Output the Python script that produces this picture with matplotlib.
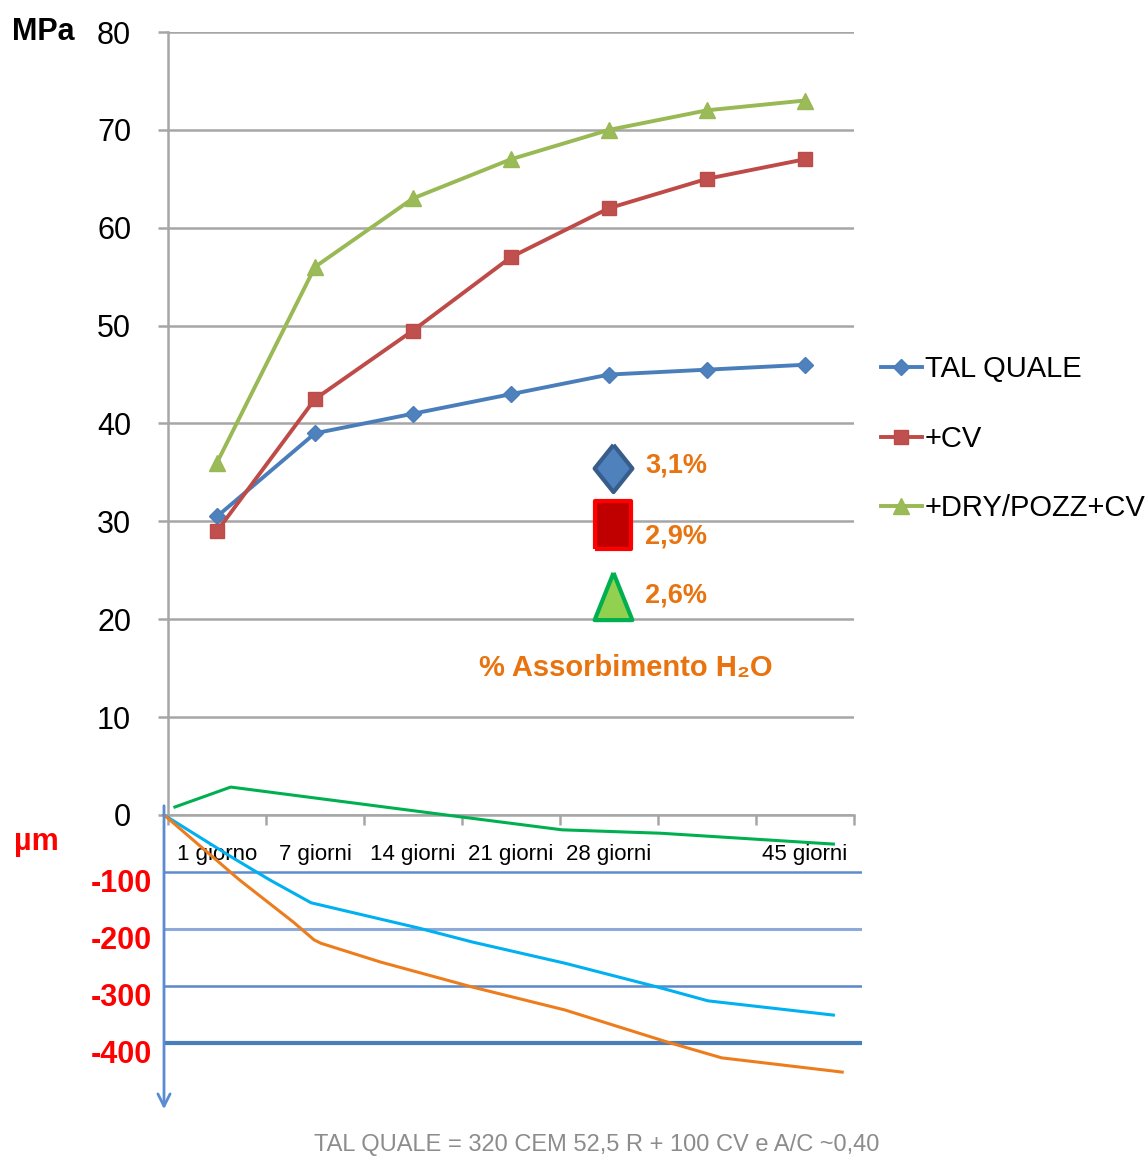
import matplotlib
matplotlib.use("Agg")
import matplotlib.pyplot as plt
from matplotlib.path import Path
from matplotlib.transforms import ScaledTranslation

plt.rcParams['font.family'] = ['Liberation Sans', 'DejaVu Sans']

# ---- data ----
categories = ['1 giorno', '7 giorni', '14 giorni', '21 giorni', '28 giorni', '35 giorni', '45 giorni']
shown_labels = ['1 giorno', '7 giorni', '14 giorni', '21 giorni', '28 giorni', '', '45 giorni']

tal_quale = [30.5, 39.0, 41.0, 43.0, 45.0, 45.5, 46.0]
plus_cv = [29.0, 42.5, 49.5, 57.0, 62.0, 65.0, 67.0]
dry_pozz_cv = [36.0, 56.0, 63.0, 67.0, 70.0, 72.0, 73.0]
series_names = ['TAL QUALE', '+CV', '+DRY/POZZ+CV']

absorption = [3.1, 2.9, 2.6]

# shrinkage curves (µm), x in category units
green_x = [-0.43, 0.14, 2.52, 3.52, 4.53, 6.29]
green_y = [14, 49, -4, -26, -32, -51]
cyan_x = [-0.54, 0.16, 0.54, 0.96, 2.05, 2.61, 3.55, 4.50, 5.01, 6.29]
cyan_y = [0, -75, -114, -154, -198, -223, -260, -302, -326, -351]
orange_x = [-0.54, 0.23, 0.49, 0.78, 0.99, 1.06, 1.67, 2.61, 3.55, 4.59, 5.15, 6.38]
orange_y = [0, -114, -149, -188, -219, -225, -258, -302, -342, -398, -426, -451]
shrink_ticks = [-100, -200, -300, -400]

W, H = 1145, 1161
fig = plt.figure(figsize=(W / 100, H / 100), dpi=100)

# ---- upper chart ----
ax = fig.add_axes([168 / W, 1 - 815 / H, (854 - 168) / W, (815 - 32) / H])
x = list(range(len(categories)))
grey = '#a6a6a6'
ax.set_xlim(-0.5, len(categories) - 0.5)
ax.set_ylim(0, 80)
ax.set_yticks(range(0, 81, 10))
ax.set_yticklabels([str(v) for v in range(0, 81, 10)], fontsize=22)
ax.grid(axis='y', color=grey, lw=1.8)
ax.set_axisbelow(True)
for s in ['top', 'right']:
    ax.spines[s].set_visible(False)
for s in ['left', 'bottom']:
    ax.spines[s].set_color(grey)
    ax.spines[s].set_linewidth(1.8)
ax.tick_params(axis='y', length=7.5, width=1.8, color=grey, pad=19)
ax.set_xticks([i - 0.5 for i in range(len(categories) + 1)])
ax.set_xticklabels([])
ax.tick_params(axis='x', which='major', length=7, width=1.8, color=grey, direction='out')
ax.set_xticks(x, minor=True)
ax.set_xticklabels(shown_labels, minor=True, fontsize=16)
ax.tick_params(axis='x', which='minor', length=0, pad=21)
ax.patch.set_visible(False)

h1, = ax.plot(x, tal_quale, color='#4a7ebb', lw=2.8, marker='D', ms=8.5,
              mfc='#4f81bd', mec='#4a7ebb', label=series_names[0])
h2, = ax.plot(x, plus_cv, color='#be4b48', lw=2.8, marker='s', ms=10,
              mfc='#c0504d', mec='#be4b48', label=series_names[1])
h3, = ax.plot(x, dry_pozz_cv, color='#98b954', lw=2.8, marker='^', ms=11,
              mfc='#9bbb59', mec='#98b954', label=series_names[2])

fig.legend(handles=[h1, h2, h3], loc='upper left',
           bbox_to_anchor=(881 / W, 1 - 355 / H), frameon=False, fontsize=21,
           handlelength=1.4, handletextpad=0.1, labelspacing=1.43,
           borderpad=0, borderaxespad=0)

fig.text(12 / W, 1 - 32 / H, 'MPa', fontsize=22, fontweight='bold', va='center', ha='left')

# absorption markers
orange = '#e8730f'
diamond = Path([(0, 1), (0.8, 0), (0, -1), (-0.8, 0), (0, 1)])
rect = Path([(-0.78, -1), (0.78, -1), (0.78, 1), (-0.78, 1), (-0.78, -1)])
tri = Path([(0, 1), (0.8, -1), (-0.8, -1), (0, 1)])
mk_x = 4.04
mk_y = [35.5, 29.6, 22.4]
txt_y = [35.7, 28.5, 22.4]
styles = [(diamond, '#4f81bd', '#385d8a'), (rect, '#c00000', '#ff0000'), (tri, '#92d050', '#00b050')]
for (pth, fc, ec), my, ty, val in zip(styles, mk_y, txt_y, absorption):
    ax.plot([mk_x], [my], marker=pth, ms=34, mfc=fc, mec=ec, mew=3, ls='none', clip_on=False)
    ax.text(mk_x + 0.33, ty, f'{val:.1f}'.replace('.', ',') + '%', color=orange,
            fontsize=19.5, fontweight='bold', va='center', ha='left')
ax.text(4.17, 15.0, '% Assorbimento H₂O', color=orange, fontsize=21,
        fontweight='bold', va='center', ha='center')

# ---- lower chart ----
ax2 = fig.add_axes([164 / W, 1 - 1112 / H, (862 - 164) / W, (1112 - 815) / H])
ax2.patch.set_visible(False)
ax2.set_xlim(-0.541, 6.582)
ax2.set_ylim(-521, 0)
for s in ax2.spines.values():
    s.set_visible(False)
ax2.set_xticks([])
ax2.set_yticks(shrink_ticks)
ax2.set_yticklabels([str(v) for v in shrink_ticks], fontsize=22, fontweight='bold', color='#ff0000')
ax2.tick_params(axis='y', length=0, pad=9)
off = ScaledTranslation(0, -8 / 100, fig.dpi_scale_trans)
for lab in ax2.get_yticklabels():
    lab.set_transform(lab.get_transform() + off)
ax2.hlines(shrink_ticks, -0.541, 6.582,
           colors=['#5f8dcb', '#8eaadb', '#5b87c7', '#4a7ebb'], lw=[1.8, 2.2, 1.8, 3])
ax2.plot(green_x, green_y, color='#00b050', lw=2.2, clip_on=False)
ax2.plot(cyan_x, cyan_y, color='#00b0f0', lw=2.2, clip_on=False)
ax2.plot(orange_x, orange_y, color='#ed7d1c', lw=2.2, clip_on=False)
ax2.annotate('', xy=(0, 0), xytext=(0, 1 + 12 / 297), xycoords='axes fraction',
             arrowprops=dict(arrowstyle='->', color='#5b8bd0', lw=2, mutation_scale=22),
             annotation_clip=False)
fig.text(14 / W, 1 - 842 / H, 'µm', fontsize=22, fontweight='bold', color='#ff0000',
         va='center', ha='left')

fig.text(597 / W, 1 - 1145 / H, 'TAL QUALE = 320 CEM 52,5 R + 100 CV e A/C ~0,40',
         fontsize=17, color='#8c8c8c', ha='center', va='center')

fig.savefig('out.png', dpi=100)
